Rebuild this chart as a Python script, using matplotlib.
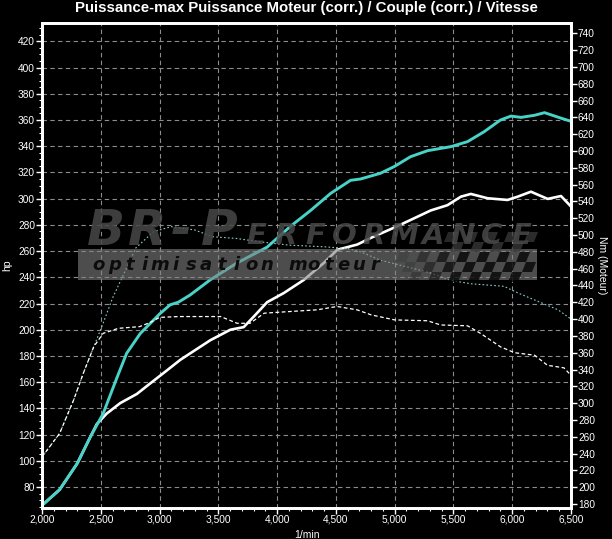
import matplotlib
matplotlib.use('Agg')
import matplotlib.pyplot as plt
from matplotlib.ticker import MultipleLocator, FuncFormatter
from matplotlib.patches import Rectangle, Polygon

plt.rcParams['font.family'] = ['Liberation Sans', 'DejaVu Sans']

# ---------------- data ----------------
rpm_power_mod = [2000, 2150, 2300, 2410, 2520, 2640, 2720, 2835, 3000, 3090, 3160, 3260,
                 3430, 3660, 3915, 4115, 4285, 4455, 4625, 4710, 4880, 4995, 5135, 5280,
                 5480, 5620, 5760, 5900, 5990, 6075, 6190, 6275, 6415, 6500]
hp_power_mod = [66, 78, 98, 118, 136, 164, 182, 197, 212, 219, 221, 226.5,
                238, 251, 263, 279, 291, 304, 314, 315, 319.4, 324.4, 332, 336.6,
                339.7, 343.5, 351, 360, 363, 362, 363.6, 365.6, 361.4, 359]

rpm_power_stock = [2000, 2150, 2300, 2410, 2466, 2550, 2665, 2807, 2920, 3063, 3176, 3261,
                   3432, 3602, 3716, 3801, 3915, 4057, 4227, 4398, 4512, 4682, 4796, 5023,
                   5165, 5307, 5449, 5563, 5648, 5790, 5960, 6046, 6159, 6301, 6415, 6500]
hp_power_stock = [66, 78, 98, 118, 128, 136, 144, 151, 159, 169, 177, 182,
                  192, 200, 202, 210, 221, 228, 238, 251, 261, 265, 270, 279,
                  285, 291, 295, 301.5, 303.6, 300.3, 299, 301.5, 305.3, 299.8, 302, 294]

rpm_torque_mod = [2000, 2150, 2270, 2350, 2440, 2520, 2600, 2700, 2800, 2950, 3100, 3300,
                  3450, 3650, 3850, 4100, 4400, 4600, 4710, 4880, 5050, 5280, 5480, 5650,
                  5930, 6050, 6220, 6390, 6500]
nm_torque_mod = [236, 264, 304, 335, 367, 395, 425, 455, 485, 504, 510, 506,
                 498, 496, 492, 488, 486, 484, 480, 470, 464, 456, 446, 442,
                 439, 431, 421, 411, 400]

rpm_torque_stock = [2000, 2150, 2270, 2350, 2440, 2520, 2650, 2830, 2920, 3000, 3160, 3520,
                    3660, 3770, 3890, 4110, 4340, 4510, 4680, 4800, 5000, 5280, 5390, 5620,
                    5730, 5900, 6020, 6190, 6300, 6440, 6500]
nm_torque_stock = [236, 264, 304, 335, 367, 383, 389, 391, 396, 402, 403, 403,
                   395, 395, 407, 409, 411, 415, 411, 405, 399, 398, 393, 392,
                   383, 367, 360, 357, 345, 342, 333]

x_ticks = [2000, 2500, 3000, 3500, 4000, 4500, 5000, 5500, 6000, 6500]
hp_ticks = list(range(80, 421, 20))
nm_ticks = list(range(180, 741, 20))

title = "Puissance-max Puissance Moteur (corr.) / Couple (corr.) / Vitesse"

# ---------------- figure ----------------
W, H = 612, 539
fig = plt.figure(figsize=(W / 100, H / 100), dpi=100, facecolor='black')
L, R, T, B = 42, 571, 23, 508
ax = fig.add_axes([L / W, (H - B) / H, (R - L) / W, (B - T) / H])
ax.set_facecolor('black')
ax.set_xlim(2000, 6500)
ax.set_ylim(64, 434)
ax2 = ax.twinx()
ax2.set_ylim(175.2, 752.3)

ax.grid(True, color='#8c8c8c', linestyle=(0, (4, 3)), linewidth=0.8)
ax.set_axisbelow(True)

ax.plot(rpm_power_stock, hp_power_stock, color='white', lw=1.9, solid_joinstyle='round')
ax.plot(rpm_power_mod, hp_power_mod, color='#48d2c8', lw=2.1, solid_joinstyle='round')
ax2.plot(rpm_torque_mod, nm_torque_mod, color='#8fcaca', lw=0.8, linestyle=(0, (1.5, 2)))
ax2.plot(rpm_torque_stock, nm_torque_stock, color='white', lw=0.9, linestyle=(0, (3, 2)))

fmt = FuncFormatter(lambda v, p: f'{int(round(v)):,}')
ax.set_xticks(x_ticks)
ax.xaxis.set_major_formatter(fmt)
ax.xaxis.set_minor_locator(MultipleLocator(100))
ax.set_yticks(hp_ticks)
ax.yaxis.set_minor_locator(MultipleLocator(5))
ax2.set_yticks(nm_ticks)

for a in (ax, ax2):
    for s in a.spines.values():
        s.set_color('white')
        s.set_linewidth(2)
    a.tick_params(which='major', colors='white', direction='out', length=4, width=1,
                  labelsize=7.3, pad=1)
    a.tick_params(which='minor', colors='white', direction='out', length=2, width=0.8)

ax.set_xlabel('1/min', color='white', fontsize=7.5)
ax.xaxis.set_label_coords(0.5, -0.046)
ax.set_ylabel('hp', color='white', fontsize=7.5)
ax.yaxis.set_label_coords(-0.056, 0.5)
ax2.set_ylabel('Nm (Moteur)', color='white', fontsize=7.5, rotation=270, va='center')
ax2.yaxis.set_label_coords(1.058, 0.5)

fig.text(0.5, 1 - 8 / H, title, color='white', fontsize=10.8, fontweight='bold',
         ha='center', va='center')

# ---------------- watermark ----------------
def P(x, y):
    return (x / W, 1 - y / H)

band = Rectangle(P(78, 280), (537 - 78) / W, (280 - 249) / H, transform=fig.transFigure,
                 facecolor='#828282', edgecolor='none', alpha=0.6, zorder=5)
fig.patches.append(band)

# checkered flag
s = 10
for j in range(5):
    for i in range(14):
        if (i + j) % 2:
            continue
        x0 = 396 + i * s - j * 4 + 8
        y0 = 232 + j * s
        if x0 + s > 536 or x0 < 395:
            continue
        if y0 < 248 and x0 < 440:
            continue
        a = min(1.0, max(0.15, (x0 - 390) / 60))
        poly = Polygon([P(x0 + 4, y0), P(x0 + s + 4, y0), P(x0 + s, y0 + s), P(x0, y0 + s)],
                       closed=True, transform=fig.transFigure,
                       facecolor='black' if y0 >= 248 else '#3a3a3a',
                       edgecolor='none', alpha=0.75 * a, zorder=6)
        fig.patches.append(poly)

for k, ch in enumerate('optimisation moteur'):
    fig.text(*P(99 + k * 15.3, 265), ch, color='#0c0c0c', fontsize=13, fontweight='bold',
             style='italic', ha='center', va='center', zorder=7, family='DejaVu Sans')

for ch, xc in zip('BR-P', [106, 147, 181, 219]):
    fig.text(*P(xc, 231), ch, color='#484848', alpha=0.85, fontsize=36,
             fontweight='bold', style='italic', ha='center', va='center', zorder=7,
             family='DejaVu Sans')
for k, ch in enumerate('ERFORMANCE'):
    fig.text(*P(256 + k * 29.5, 236), ch, color='#4a4a4a', alpha=0.85, fontsize=21,
             fontweight='bold', style='italic', ha='center', va='center', zorder=7,
             family='DejaVu Sans')

fig.savefig('out.png', dpi=100, facecolor='black')
